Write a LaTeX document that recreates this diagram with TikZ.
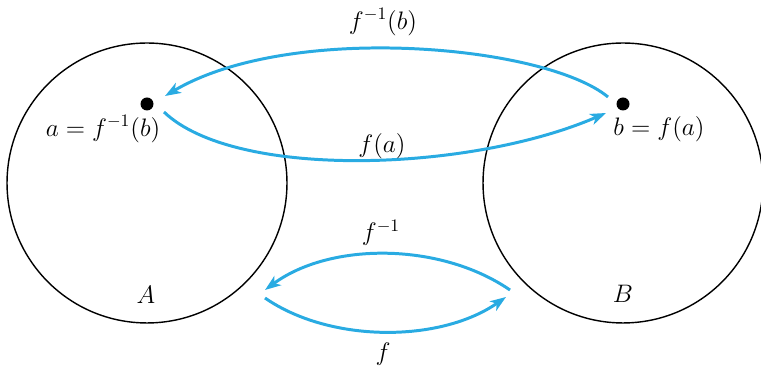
\documentclass[tikz,border=0pt]{standalone}
\usepackage{amsmath}
\usepackage{tikz}
\usetikzlibrary{arrows.meta, positioning, calc}
\usepackage{xcolor}

\definecolor{mapblue}{RGB}{41,171,226}

\begin{document}
\begin{tikzpicture}[
    x=0.02cm, y=-0.02cm,
    set/.style = {circle, draw=black, line width=0.8pt, minimum size=5.6cm, inner sep=0pt},
    elem/.style = {circle, fill=black, minimum size=0.26cm, inner sep=0pt},
    maparrow/.style = {draw=mapblue, line width=1.7pt, -{Stealth[length=9pt, width=6.5pt, inset=2.5pt]}},
    lbl/.style = {font=\Large, inner sep=1pt}
]
    \useasboundingbox (0,0) rectangle (761,367);

    % 1. The two sets
    \node [set] (setA) at (147,183) {};
    \node [set] (setB) at (623,183) {};
    \node [lbl] (nameA) at (146,295) {$A$};
    \node [lbl] (nameB) at (623,294) {$B$};

    % 2. Elements and their labels
    \node [elem] (a) at (147,104) {};
    \node [elem] (b) at (623,104) {};
    \node [lbl] (alab) at (103,129) {$a = f^{-1}(b)$};
    \node [lbl] (blab) at (659,129) {$b = f(a)$};

    % 3. Anchor points for the small arrows
    \coordinate (lin) at (265,290);
    \coordinate (lout) at (265,298);
    \coordinate (rout) at (510,290);
    \coordinate (rin) at (506,297);

    % 4. Element arrows
    \draw [maparrow] ($(b)+(-15,-7)$) .. controls (545,45) and (290,22) .. ($(a)+(18,-8)$);
    \draw [maparrow] ($(a)+(17,8)$) .. controls (235,180) and (470,172) .. ($(b)+(-17,9)$);
    \node [lbl] (finvb) at (383,22) {$f^{-1}(b)$};
    \node [lbl] (fa) at (382,146) {$f(a)$};

    % 5. Set arrows
    \draw [maparrow] (rout) .. controls (440,242) and (330,242) .. (lin);
    \draw [maparrow] (lout) .. controls (330,343) and (440,343) .. (rin);
    \node [lbl] (finv) at (381,233) {$f^{-1}$};
    \node [lbl] (f) at (383,354) {$f$};
\end{tikzpicture}
\end{document}
